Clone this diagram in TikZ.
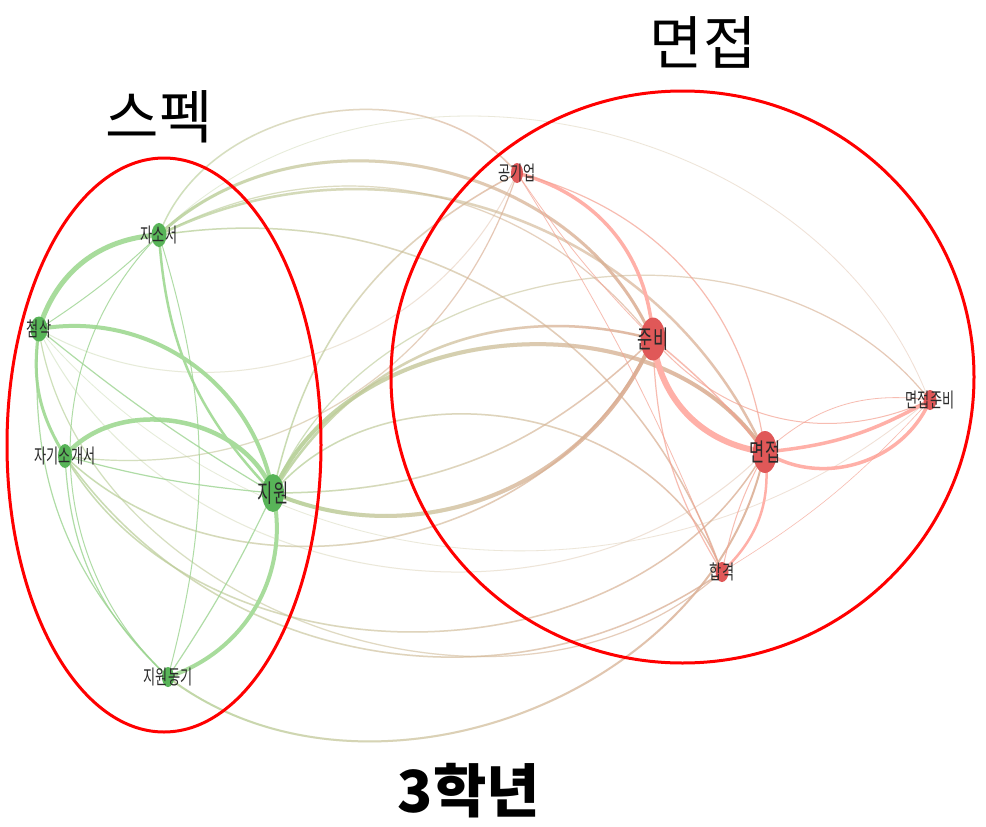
\documentclass[tikz,border=0pt]{standalone}
\usepackage{fontspec}
\usepackage{graphicx}
\setmainfont{Noto Sans CJK KR}
\usetikzlibrary{shapes.geometric,fadings}
\definecolor{gnode}{HTML}{58B458}
\definecolor{rnode}{HTML}{E05858}
\definecolor{gedge}{HTML}{A8DC9C}
\definecolor{gthin}{HTML}{9CD490}
\definecolor{pedge}{HTML}{FFB0A8}
\definecolor{pthin}{HTML}{F4A090}
\definecolor{xg}{HTML}{B8D49C}
\definecolor{xr}{HTML}{DCAE94}
\definecolor{labc}{HTML}{2A2A2A}
\definecolor{ring}{HTML}{FF0000}
\tikzfading[name=toR, left color=transparent!100, right color=transparent!0]
\tikzfading[name=toL, left color=transparent!0, right color=transparent!100]
\tikzset{
  gdot/.style={ellipse, fill=gnode, inner sep=0pt, draw=none},
  rdot/.style={ellipse, fill=rnode, inner sep=0pt, draw=none},
  lab/.style={text=labc, inner sep=0pt},
  ge/.style={draw=gedge, line cap=round},
  gt/.style={draw=gthin, line cap=round, draw opacity=0.8},
  pe/.style={draw=pedge, line cap=round},
  pt/.style={draw=pthin, line cap=round, draw opacity=0.7},
  ringst/.style={draw=ring, line width=3pt},
  big/.style={inner sep=0pt, text=black},
}
% cross edge: green at the left end, brown-pink at the right end
\newcommand\xedge[5]{%
  \draw[draw=xg, line width=#4, path fading=toL, draw opacity=#5] (#1) to[#3] (#2);
  \draw[draw=xr, line width=#4, path fading=toR, draw opacity=#5] (#1) to[#3] (#2);}
\newcommand\smalllab[1]{\scalebox{0.66}[1]{\fontsize{20}{20}\selectfont #1}}
\newcommand\biglab[1]{\scalebox{0.66}[1]{\fontsize{25}{25}\selectfont #1}}
\begin{document}
\begin{tikzpicture}[x=1pt,y=1pt]
\useasboundingbox (0,0) rectangle (986,-827);
\fill[white] (0,0) rectangle (986,-827);
% node positions
\coordinate (jss) at (159,-235);
\coordinate (cs)  at (39,-329);
\coordinate (jgs) at (65,-456);
\coordinate (jw)  at (273,-493);
\coordinate (jwd) at (168,-677);
\coordinate (gge) at (517,-173);
\coordinate (jb)  at (653,-339);
\coordinate (mj)  at (765,-452);
\coordinate (mjp) at (930,-400);
\coordinate (hg)  at (722,-572);
% cross edges
\xedge{jw}{jb}{bend right=45}{4pt}{1}
\xedge{jw}{mj}{bend left=62}{4pt}{1}
\xedge{jw}{jb}{bend left=37}{2.5pt}{0.9}
\xedge{jw}{hg}{bend left=60}{1.5pt}{0.8}
\xedge{jw}{mjp}{bend left=60}{1.2pt}{0.7}
\xedge{cs}{gge}{bend right=48}{1pt}{0.4}
\xedge{jw}{gge}{bend left=25}{1.5pt}{0.8}
\xedge{jss}{jb}{bend left=55}{3pt}{0.9}
\xedge{jss}{mj}{bend left=46}{2.5pt}{0.8}
\xedge{jss}{hg}{bend left=40}{1.5pt}{0.8}
\xedge{jss}{gge}{bend left=60}{1.5pt}{0.7}
\xedge{jss}{mjp}{bend left=57}{0.8pt}{0.4}
\xedge{jss}{jb}{bend left=40}{1.2pt}{0.7}
\xedge{jgs}{gge}{bend right=40}{1.2pt}{0.7}
\xedge{jgs}{jb}{bend right=55}{1.5pt}{0.8}
\xedge{cs}{mj}{bend right=55}{1pt}{0.4}
\xedge{jgs}{hg}{bend right=45}{1.5pt}{0.8}
\xedge{jgs}{mj}{bend right=60}{1.5pt}{0.8}
\xedge{cs}{hg}{bend right=62}{1.2pt}{0.7}
\xedge{jwd}{mj}{bend right=58}{2pt}{0.9}
\xedge{jw}{jb}{bend right=22}{1.5pt}{0.8}
\xedge{cs}{mjp}{bend right=45}{0.8pt}{0.4}
% green edges
\draw[ge, line width=5pt] (cs) to[bend left=35] (jss);
\draw[gt, line width=1pt] (jss) to[bend left=5] (cs);
\draw[ge, line width=4pt] (cs) to[bend left=45] (jw);
\draw[ge, line width=4.5pt] (jgs) to[bend left=60] (jw);
\draw[ge, line width=2.5pt] (jss) to[bend right=20] (jw);
\draw[ge, line width=4pt] (jw) to[bend left=42] (jwd);
\draw[ge, line width=3pt] (cs) to[bend right=20] (jgs);
\draw[gt, line width=1pt] (jss) to[bend left=16] (jwd);
\draw[gt, line width=1pt] (jss) to[bend right=46] (jwd);
\draw[gt, line width=1.2pt] (cs) to[bend right=25] (jwd);
\draw[gt, line width=1.2pt] (jgs) to[bend right=22] (jwd);
\draw[gt, line width=1.2pt] (cs) to[bend right=4] (jw);
\draw[gt, line width=1.2pt] (jgs) to[bend right=5] (jw);
\draw[gt, line width=1.2pt] (jwd) to[bend right=4] (jw);
% red edges
\draw[pe, line width=3.5pt] (gge) to[bend left=36] (jb);
\draw[pt, line width=1.2pt] (gge) to[bend left=34] (mj);
\draw[pt, line width=0.8pt] (gge) to[bend left=5] (hg);
\draw[pt, line width=0.8pt] (gge) to[bend right=5] (jb);
\draw[pe, line width=6pt] (jb) to[bend right=38] (mj);
\draw[pt, line width=1.5pt] (jb) to[bend left=6] (mj);
\draw[pe, line width=3.5pt] (mj) to[bend right=50] (mjp);
\draw[pe, line width=3.5pt] (mj) to[bend right=12] (mjp);
\draw[pt, line width=1pt] (jb) to[bend right=37] (mjp);
\draw[pt, line width=0.8pt] (mj) to[bend left=25] (mjp);
\draw[pt, line width=1.2pt] (jb) to[bend right=15] (hg);
\draw[pe, line width=2.5pt] (mj) to[bend left=27] (hg);
\draw[pt, line width=0.6pt] (mjp) to[bend left=8] (hg);
\draw[pt, line width=1pt] (mj) to[bend right=8] (hg);
% dots
\node[gdot, minimum width=15pt, minimum height=24pt] (jssD) at (jss) {};
\node[gdot, minimum width=17pt, minimum height=25pt] (csD) at (cs) {};
\node[gdot, minimum width=14pt, minimum height=24pt] (jgsD) at (jgs) {};
\node[gdot, minimum width=22pt, minimum height=38pt] (jwD) at (jw) {};
\node[gdot, minimum width=12pt, minimum height=20pt] (jwdD) at (jwd) {};
\node[rdot, minimum width=12pt, minimum height=20pt] (ggeD) at (gge) {};
\node[rdot, minimum width=25pt, minimum height=43pt] (jbD) at (jb) {};
\node[rdot, minimum width=24pt, minimum height=42pt] (mjD) at (mj) {};
\node[rdot, minimum width=13pt, minimum height=20pt] (mjpD) at (mjp) {};
\node[rdot, minimum width=13pt, minimum height=20pt] (hgD) at (hg) {};
% labels
\node[lab] (jssL) at (jss) {\smalllab{자소서}};
\node[lab] (csL) at (cs) {\smalllab{첨삭}};
\node[lab] (jgsL) at (jgs) {\smalllab{자기소개서}};
\node[lab] (jwL) at (jw) {\biglab{지원}};
\node[lab] (jwdL) at (jwd) {\smalllab{지원동기}};
\node[lab] (ggeL) at (gge) {\smalllab{공기업}};
\node[lab] (jbL) at (jb) {\biglab{준비}};
\node[lab] (mjL) at (mj) {\biglab{면접}};
\node[lab] (mjpL) at (mjp) {\smalllab{면접준비}};
\node[lab] (hgL) at (hg) {\smalllab{합격}};
% group rings
\draw[ringst] (164,-445) ellipse [x radius=157, y radius=287];
\draw[ringst] (682.5,-377) ellipse [x radius=291.5, y radius=286];
% titles
\node[big, font=\fontsize{58}{58}\selectfont] (t1) at (703,-42) {면접};
\node[big, font=\fontsize{58}{58}\selectfont] (t2) at (159,-117) {스펙};
\node[big, font=\fontsize{58}{58}\selectfont\bfseries] (t3) at (469,-791) {3학년};
\end{tikzpicture}
\end{document}
